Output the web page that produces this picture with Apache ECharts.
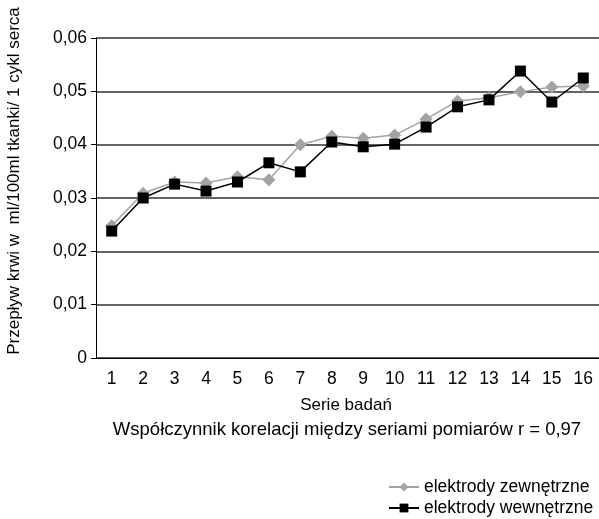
<!DOCTYPE html>
<html lang="pl">
<head>
<meta charset="UTF-8">
<script src="https://cdn.jsdelivr.net/npm/echarts@6/dist/echarts.min.js"></script>
<title>przeplyw</title>
<style>html,body{margin:0;padding:0;background:#fff}</style>
</head>
<body>
<div id="chart" style="width:599px;height:519px;"></div>
<script>
var categories = ['1', '2', '3', '4', '5', '6', '7', '8', '9', '10', '11', '12', '13', '14', '15', '16'];
var zewnetrzne = [0.0248, 0.0309, 0.0330, 0.0328, 0.0340, 0.0334, 0.0400, 0.0416, 0.0412, 0.0418, 0.0448, 0.0482, 0.0488, 0.0499, 0.0508, 0.0510];
var wewnetrzne = [0.0238, 0.0300, 0.0326, 0.0313, 0.0330, 0.0366, 0.0349, 0.0405, 0.0396, 0.0401, 0.0433, 0.0471, 0.0484, 0.0538, 0.0480, 0.0525];
var seriesNames = ['elektrody zewnętrzne', 'elektrody wewnętrzne'];

var font = '"Liberation Sans", Arial, sans-serif';
var fs = 17.5;

// one legend per item so the two rows can be placed exactly
function legendFor(name, top) {
    return {
        orient: 'vertical',
        left: 383,
        top: top,
        itemWidth: 30,
        itemHeight: 11,
        itemGap: 0,
        textStyle: { fontFamily: font, fontSize: fs, color: '#000' },
        data: [name]
    };
}

var chart = echarts.init(document.getElementById('chart'));
chart.setOption({
    animation: false,
    textStyle: { fontFamily: font },
    grid: { left: 96, top: 38, width: 504, height: 320 },
    legend: [legendFor(seriesNames[0], 473), legendFor(seriesNames[1], 494)],
    xAxis: {
        type: 'category',
        data: categories,
        boundaryGap: true,
        axisLine: { lineStyle: { color: '#000', width: 1 } },
        axisTick: { length: 5, lineStyle: { color: '#000' } },
        axisLabel: { color: '#000', fontSize: fs, margin: 12 }
    },
    yAxis: {
        type: 'value',
        min: 0,
        max: 0.06,
        interval: 0.01,
        axisLine: { show: true, lineStyle: { color: '#000', width: 1 } },
        axisTick: { show: true, length: 5, lineStyle: { color: '#000' } },
        splitLine: { lineStyle: { color: '#333', width: 1.5 } },
        axisLabel: {
            color: '#000',
            fontSize: fs,
            margin: 9,
            formatter: function (v) {
                return v === 0 ? '0' : v.toFixed(2).replace('.', ',');
            }
        }
    },
    graphic: [
        {
            type: 'text',
            x: 14, y: 181,
            rotation: Math.PI / 2,
            style: {
                text: 'Przepływ krwi w  ml/100ml tkanki/ 1 cykl serca',
                font: '17px ' + font,
                fill: '#000',
                align: 'center',
                verticalAlign: 'middle'
            }
        },
        {
            type: 'text',
            x: 346, y: 405,
            style: {
                text: 'Serie badań',
                font: '17px ' + font,
                fill: '#000',
                align: 'center',
                verticalAlign: 'middle'
            }
        },
        {
            type: 'text',
            x: 347, y: 430,
            style: {
                text: 'Współczynnik korelacji między seriami pomiarów r = 0,97',
                font: '18.5px ' + font,
                fill: '#000',
                align: 'center',
                verticalAlign: 'middle'
            }
        }
    ],
    series: [
        {
            name: seriesNames[0],
            type: 'line',
            data: zewnetrzne,
            symbol: 'diamond',
            symbolSize: 13,
            z: 2,
            itemStyle: { color: '#a3a3a3' },
            lineStyle: { color: '#a3a3a3', width: 1.5 }
        },
        {
            name: seriesNames[1],
            type: 'line',
            data: wewnetrzne,
            symbol: 'rect',
            symbolSize: 11,
            z: 3,
            itemStyle: { color: '#000' },
            lineStyle: { color: '#000', width: 1.5 }
        }
    ]
});
</script>
</body>
</html>
